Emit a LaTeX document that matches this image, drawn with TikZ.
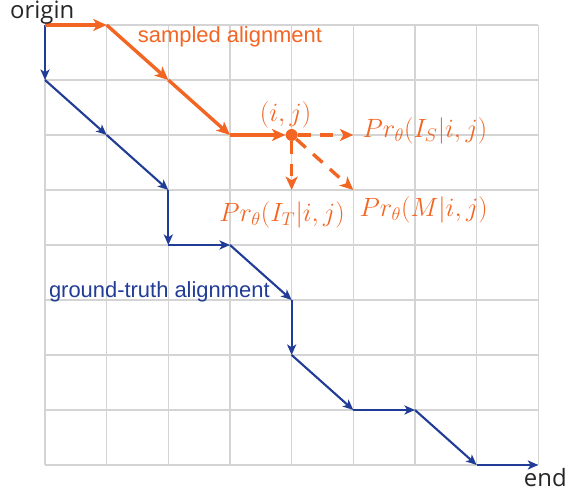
\documentclass[tikz,border=0pt]{standalone}
\usepackage{graphicx}
\usepackage{fontspec}
\setsansfont{Liberation Sans}
\newfontfamily\cornerfont{Open Sans}
\usepackage{xcolor}
\definecolor{sampleorange}{RGB}{242, 101, 34}
\definecolor{truthblue}{RGB}{33, 60, 150}
\definecolor{gridgray}{RGB}{212, 212, 212}
\usetikzlibrary{arrows.meta, positioning, calc}
\newcommand{\probtext}[1]{\scalebox{1.088}{$#1$}}

\begin{document}
\begin{tikzpicture}[x=1.5415cm, y=-1.375cm,
  gridline/.style={gridgray, line width=1pt},
  truth/.style={-{Stealth[length=7.5pt, width=6.5pt, inset=2pt]}, line width=1.5pt, truthblue},
  sampled/.style={-{Stealth[length=9.5pt, width=8.5pt, inset=2.5pt]}, line width=2.4pt, sampleorange},
  option/.style={sampled, dash pattern=on 9pt off 7pt},
  pathlabel/.style={font=\fontsize{15.6pt}{18pt}\selectfont\sffamily, inner sep=0pt},
  cornerlabel/.style={font=\fontsize{17pt}{20pt}\selectfont\cornerfont, text=black!85, inner sep=0pt},
  problabel/.style={font=\fontsize{17.28pt}{21pt}\selectfont, text=sampleorange, inner sep=0pt}]

\useasboundingbox (-0.730,-0.4545) rectangle (8.482,8.509);

% gitter
\foreach \i in {0,...,8}
  \foreach \j in {0,...,8}
    \coordinate (c\i\j) at (\i,\j);
\foreach \k in {0,...,8} {
  \draw[gridline] (c\k0) -- (c\k8);
  \draw[gridline] (c0\k) -- (c8\k);
}

% ground truth
\foreach \a/\b in {00/01, 01/12, 12/23, 23/24, 24/34, 34/45, 45/46, 46/57, 57/67, 67/78, 78/88}
  \draw[truth] (c\a) -- (c\b);

% sampled
\node[circle, fill=sampleorange, inner sep=0pt, minimum size=8.5pt] (ij) at (c42) {};
\draw[sampled] (c00) -- (c10);
\draw[sampled] (c10) -- (c21);
\draw[sampled] (c21) -- (c32);
\draw[sampled] (c32) -- (ij);
\draw[option] (ij) -- (c52);
\draw[option] (ij) -- (c43);
\draw[option] (ij) -- (c53);

% labels
\node[cornerlabel, anchor=base, xshift=-2pt, yshift=4.3pt] (origin) at (c00) {origin};
\node[cornerlabel, anchor=base, xshift=5pt, yshift=-15.6pt] (end) at (c88) {end};
\node[pathlabel, text=sampleorange, anchor=base, yshift=-12.8pt] (sampledlabel) at (c30) {sampled alignment};
\node[pathlabel, text=truthblue, anchor=base, xshift=-6.4pt, yshift=1.5pt] (truthlabel) at (c25) {ground-truth alignment};
\node[problabel, xshift=-4.3pt, yshift=14.2pt] (ijlabel) at (c42) {\probtext{(i,j)}};
\node[problabel, right=6.4pt of c52, yshift=2.8pt] (pis) {\probtext{Pr_\theta(I_S|i,j)}};
\node[problabel, xshift=-6.8pt, yshift=-17.8pt] (pit) at (c43) {\probtext{Pr_\theta(I_T|i,j)}};
\node[problabel, right=4.3pt of c53, yshift=-14.2pt] (pm) {\probtext{Pr_\theta(M|i,j)}};
\end{tikzpicture}
\end{document}
